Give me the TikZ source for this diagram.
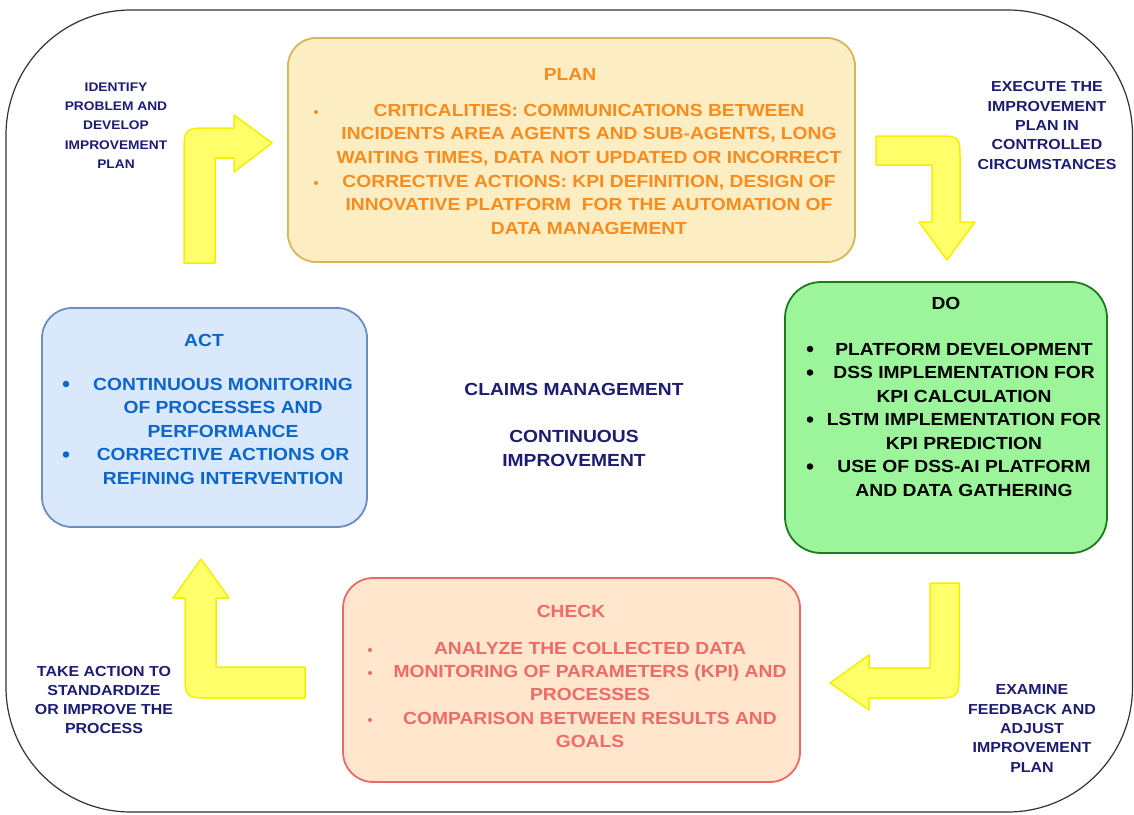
\documentclass[tikz,border=0pt]{standalone}
\usepackage{fontspec}
\setmainfont{Liberation Sans}[FakeStretch=1.1]
\definecolor{planfill}{HTML}{FDEDC2}
\definecolor{planedge}{HTML}{D6B656}
\definecolor{plantext}{HTML}{FA8C1E}
\definecolor{dofill}{HTML}{9CF59A}
\definecolor{doedge}{HTML}{1F7A1F}
\definecolor{checkfill}{HTML}{FFE6CC}
\definecolor{checkedge}{HTML}{EA6B66}
\definecolor{checktext}{HTML}{F06A66}
\definecolor{actfill}{HTML}{DAE8FC}
\definecolor{actedge}{HTML}{6C8EBF}
\definecolor{acttext}{HTML}{0A66CC}
\definecolor{navy}{HTML}{1C1C72}
\definecolor{arrowfill}{HTML}{FFFF6A}
\definecolor{arrowedge}{HTML}{F5EE00}
\definecolor{frame}{HTML}{333333}
\begin{document}
\begin{tikzpicture}[x=1pt,y=-1pt,
  phasebox/.style={rectangle, rounded corners=#1, line width=1.8pt, inner sep=0},
  boxtext/.style={inner sep=0, anchor=base, font=\fontsize{17.5}{23.5}\selectfont\bfseries},
  planline/.style={boxtext, text=plantext},
  doline/.style={boxtext, text=black},
  checkline/.style={boxtext, text=checktext},
  actline/.style={boxtext, text=acttext},
  dotbullet/.style={circle, inner sep=0, minimum size=4, fill=#1},
  roundbullet/.style={circle, inner sep=0, minimum size=6.5, fill=#1},
  steplabel/.style={inner sep=0, align=center, text=navy, font=\fontsize{#1}{19.3}\selectfont\bfseries},
  bentarrow/.style={fill=arrowfill, draw=arrowedge, line width=1.5pt, line join=round}
]
\useasboundingbox (0,0) rectangle (1134,814);

% outer frame
\draw[frame, line width=1.2pt, rounded corners=125] (6,10) rectangle (1132.5,812);

% ---------------- phase boxes ----------------
\node[phasebox=28, fill=planfill, draw=planedge, minimum width=567, minimum height=224] (plan) at (571.5,150) {};
\node[phasebox=36, fill=dofill, draw=doedge, minimum width=322, minimum height=271] (do) at (946,417.5) {};
\node[phasebox=30, fill=checkfill, draw=checkedge, minimum width=457, minimum height=204] (check) at (571.5,680) {};
\node[phasebox=30, fill=actfill, draw=actedge, minimum width=325, minimum height=219] (act) at (204.5,417.5) {};

% PLAN
\node[planline] (plan-title) at (570,80.3) {PLAN};
\node[dotbullet=plantext] (plan-b1) at (316,112) {};
\node[planline] (plan-1a) at (589,116.3) {CRITICALITIES: COMMUNICATIONS BETWEEN};
\node[planline] (plan-1b) at (589,139.8) {INCIDENTS AREA AGENTS AND SUB-AGENTS, LONG};
\node[planline] (plan-1c) at (589,163.3) {WAITING TIMES, DATA NOT UPDATED OR INCORRECT};
\node[dotbullet=plantext] (plan-b2) at (316,183) {};
\node[planline] (plan-2a) at (589,187.3) {CORRECTIVE ACTIONS: KPI DEFINITION, DESIGN OF};
\node[planline] (plan-2b) at (589,210.8) {INNOVATIVE PLATFORM\ \ FOR THE AUTOMATION OF};
\node[planline] (plan-2c) at (589,234.3) {DATA MANAGEMENT};

% DO
\node[doline] (do-title) at (946,309.3) {DO};
\node[roundbullet=black] (do-b1) at (810,349) {};
\node[doline] (do-1) at (964,355.3) {PLATFORM DEVELOPMENT};
\node[roundbullet=black] (do-b2) at (810,372.5) {};
\node[doline] (do-2a) at (964,378.8) {DSS IMPLEMENTATION FOR};
\node[doline] (do-2b) at (964,402.3) {KPI CALCULATION};
\node[roundbullet=black] (do-b3) at (810,419.5) {};
\node[doline] (do-3a) at (964,425.8) {LSTM IMPLEMENTATION FOR};
\node[doline] (do-3b) at (964,449.3) {KPI PREDICTION};
\node[roundbullet=black] (do-b4) at (810,466.5) {};
\node[doline] (do-4a) at (964,472.8) {USE OF DSS-AI PLATFORM};
\node[doline] (do-4b) at (964,496.3) {AND DATA GATHERING};

% CHECK
\node[checkline] (check-title) at (571,617.3) {CHECK};
\node[dotbullet=checktext] (check-b1) at (370,650) {};
\node[checkline] (check-1) at (590,654.3) {ANALYZE THE COLLECTED DATA};
\node[dotbullet=checktext] (check-b2) at (370,673) {};
\node[checkline] (check-2a) at (590,677.6) {MONITORING OF PARAMETERS (KPI) AND};
\node[checkline] (check-2b) at (590,700.9) {PROCESSES};
\node[dotbullet=checktext] (check-b3) at (370,720) {};
\node[checkline] (check-3a) at (590,724.2) {COMPARISON BETWEEN RESULTS AND};
\node[checkline] (check-3b) at (590,747.5) {GOALS};

% ACT
\node[actline] (act-title) at (204,346.3) {ACT};
\node[roundbullet=acttext] (act-b1) at (66,384) {};
\node[actline] (act-1a) at (223,390.3) {CONTINUOUS MONITORING};
\node[actline] (act-1b) at (223,413.8) {OF PROCESSES AND};
\node[actline] (act-1c) at (223,437.3) {PERFORMANCE};
\node[roundbullet=acttext] (act-b2) at (66,454.5) {};
\node[actline] (act-2a) at (223,460.8) {CORRECTIVE ACTIONS OR};
\node[actline] (act-2b) at (223,484.3) {REFINING INTERVENTION};

% centre caption
\node[inner sep=0, align=center, text=navy, font=\fontsize{17.5}{23.5}\selectfont\bfseries] (centre) at (574,425)
  {CLAIMS MANAGEMENT\\[23.5pt]CONTINUOUS\\IMPROVEMENT};

% ---------------- bent arrows between phases ----------------
\filldraw[bentarrow] (184,263) -- (184,155) .. controls (184,128) .. (211,128) -- (234,128) -- (234,115)
  -- (272,143) -- (234,172) -- (234,158) -- (215,158) -- (215,263) -- cycle;
\filldraw[bentarrow] (876,136) -- (936,136) .. controls (960,136) .. (960,160) -- (960,222) -- (975,222)
  -- (947,260) -- (919,222) -- (932,222) -- (932,165) -- (876,165) -- cycle;
\filldraw[bentarrow] (930,583) -- (959,583) -- (959,671) .. controls (959,698) .. (932,698) -- (869,698)
  -- (869,710) -- (830,683) -- (869,655) -- (869,668) -- (930,668) -- cycle;
\filldraw[bentarrow] (305,667) -- (216,667) -- (216,598) -- (229,598) -- (201,559) -- (173,598)
  -- (185,598) -- (185,671) .. controls (185,698) .. (212,698) -- (305,698) -- cycle;

% ---------------- step labels ----------------
\node[steplabel=12.5] (lbl-plan) at (116,125.5) {IDENTIFY\\PROBLEM AND\\DEVELOP\\IMPROVEMENT\\PLAN};
\node[steplabel=14.5] (lbl-do) at (1047,125.5) {EXECUTE THE\\IMPROVEMENT\\PLAN IN\\CONTROLLED\\CIRCUMSTANCES};
\node[steplabel=14.5] (lbl-check) at (1032,728.5) {EXAMINE\\FEEDBACK AND\\ADJUST\\IMPROVEMENT\\PLAN};
\node[steplabel=14.5] (lbl-act) at (104,700) {TAKE ACTION TO\\STANDARDIZE\\OR IMPROVE THE\\PROCESS};
\end{tikzpicture}
\end{document}
